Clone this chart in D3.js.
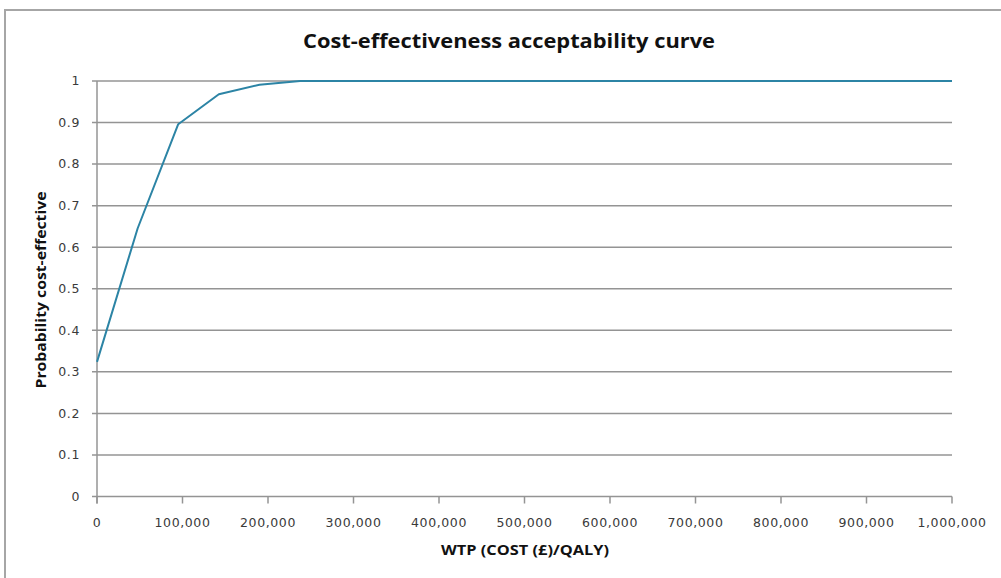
<!DOCTYPE html>
<html>
<head>
<meta charset="utf-8">
<script src="https://cdn.jsdelivr.net/npm/d3@7"></script>
<style>
  html, body { margin: 0; padding: 0; background: #fff; }
  svg { display: block; }
  .tick-label { font-family: "DejaVu Sans", Verdana, sans-serif; font-size: 12.5px; fill: #3a3a3a; letter-spacing: 0.6px; }
  .axis-title { font-family: "Open Sans", "DejaVu Sans", sans-serif; font-weight: bold; font-size: 14px; fill: #111; }
  .chart-title { font-family: "Open Sans", "Liberation Sans", sans-serif; font-weight: bold; font-size: 19px; fill: #111; }
</style>
</head>
<body>
<script>
// Willingness-to-pay thresholds (£ per QALY) and probability the intervention is cost-effective
const wtp = [0, 47500, 95000, 142500, 190000, 237500, 1000000];
const probability = [0.324, 0.645, 0.896, 0.968, 0.991, 1, 1];

const xTicks = [0, 100000, 200000, 300000, 400000, 500000, 600000, 700000, 800000, 900000, 1000000];
const yTicks = [0, 0.1, 0.2, 0.3, 0.4, 0.5, 0.6, 0.7, 0.8, 0.9, 1];

const titleText = "Cost-effectiveness acceptability curve";
const xTitle = "WTP (COST (£)/QALY)";
const yTitle = "Probability cost-effective";

const W = 1001, H = 578;
const svg = d3.select("body").append("svg").attr("width", W).attr("height", H);

// outer chart frame (runs off the right and bottom edges)
svg.append("rect")
  .attr("x", 5).attr("y", 10)
  .attr("width", W + 20).attr("height", H + 20)
  .attr("fill", "#fff")
  .attr("stroke", "#a6a6a6").attr("stroke-width", 2);

const x = d3.scaleLinear().domain([0, 1000000]).range([97, 952]);
const y = d3.scaleLinear().domain([0, 1]).range([496.5, 81]);

const grid = "#949494";
const fmt = d3.format(",");

// horizontal gridlines with short tick stubs to the left of the axis
svg.append("g").selectAll("line").data(yTicks).join("line")
  .attr("x1", x(0) - 5).attr("x2", x(1000000))
  .attr("y1", d => y(d)).attr("y2", d => y(d))
  .attr("stroke", grid).attr("stroke-width", 1.5);

// y axis line
svg.append("line")
  .attr("x1", x(0)).attr("x2", x(0))
  .attr("y1", y(1)).attr("y2", y(0) + 7)
  .attr("stroke", grid).attr("stroke-width", 1.5);

// x tick marks
svg.append("g").selectAll("line").data(xTicks).join("line")
  .attr("x1", d => x(d)).attr("x2", d => x(d))
  .attr("y1", y(0)).attr("y2", y(0) + 7)
  .attr("stroke", grid).attr("stroke-width", 1.5);

// y tick labels
svg.append("g").selectAll("text").data(yTicks).join("text")
  .attr("class", "tick-label")
  .attr("x", 80).attr("y", d => y(d))
  .attr("dy", "0.35em")
  .attr("text-anchor", "end")
  .text(d => d3.format("~g")(d));

// x tick labels
svg.append("g").selectAll("text").data(xTicks).join("text")
  .attr("class", "tick-label")
  .attr("x", d => x(d)).attr("y", 522.5)
  .attr("dy", "0.35em")
  .attr("text-anchor", "middle")
  .text(d => fmt(d));

// acceptability curve
const line = d3.line().x((d, i) => x(wtp[i])).y(d => y(d));
svg.append("path")
  .datum(probability)
  .attr("d", line)
  .attr("fill", "none")
  .attr("stroke", "#2c84a5")
  .attr("stroke-width", 2)
  .attr("stroke-linejoin", "round");

// titles
svg.append("text")
  .attr("class", "chart-title")
  .attr("x", 509).attr("y", 48)
  .attr("text-anchor", "middle")
  .attr("textLength", 412)
  .attr("lengthAdjust", "spacingAndGlyphs")
  .text(titleText);

svg.append("text")
  .attr("class", "axis-title")
  .attr("x", 525).attr("y", 555)
  .attr("text-anchor", "middle")
  .attr("textLength", 168)
  .attr("lengthAdjust", "spacingAndGlyphs")
  .text(xTitle);

svg.append("text")
  .attr("class", "axis-title")
  .attr("transform", "translate(46,290) rotate(-90)")
  .attr("text-anchor", "middle")
  .attr("textLength", 197)
  .attr("lengthAdjust", "spacingAndGlyphs")
  .text(yTitle);
</script>
</body>
</html>
